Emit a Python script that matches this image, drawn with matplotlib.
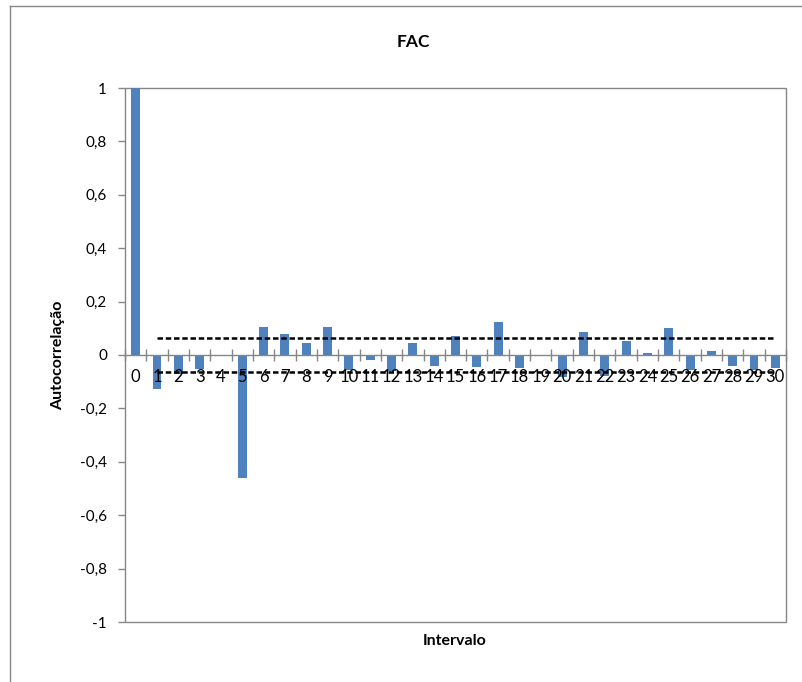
import matplotlib
matplotlib.use("Agg")
import matplotlib.pyplot as plt
from matplotlib.patches import Rectangle
from matplotlib.lines import Line2D
import numpy as np

lags = list(range(31))
fac = [1.0, -0.127, -0.071, -0.052, -0.005, -0.46, 0.104, 0.077, 0.044, 0.104,
       -0.055, -0.018, -0.06, 0.044, -0.04, 0.072, -0.044, 0.122, -0.05, -0.003,
       -0.082, 0.087, -0.078, 0.052, 0.007, 0.102, -0.055, 0.015, -0.04, -0.055,
       -0.05]
limit = 0.064
yticks = [-1, -0.8, -0.6, -0.4, -0.2, 0, 0.2, 0.4, 0.6, 0.8, 1]
ytick_labels = ["-1", "-0,8", "-0,6", "-0,4", "-0,2", "0", "0,2", "0,4", "0,6", "0,8", "1"]

bar_color = "#4F81BD"
gray = "#868686"

plt.rcParams["font.family"] = ["Lato", "DejaVu Sans"]

fig = plt.figure(figsize=(8.03, 6.82), dpi=100)
ax = fig.add_axes([125 / 803, 1 - 622 / 682, 661 / 803, 534 / 682])
ax.set_axisbelow(False)

x = np.array(lags)
ax.bar(x, fac, width=0.42, color=bar_color, zorder=1)

# confidence limits, from lag 1 to the last lag
ax.plot([x[1], x[-1]], [limit, limit], color="black", lw=1.8, dashes=[2.2, 1.1], zorder=4)
ax.plot([x[1], x[-1]], [-limit, -limit], color="black", lw=1.8, dashes=[2.2, 1.1], zorder=4)

ax.set_xlim(-0.5, len(lags) - 0.5)
ax.set_ylim(-1, 1)

# frame
for s in ["top", "right", "left"]:
    ax.spines[s].set_visible(False)
ax.spines["bottom"].set_position(("data", 0))
ax.spines["bottom"].set_color(gray)
ax.spines["bottom"].set_linewidth(1.0)
ax.add_patch(Rectangle((0, 0), 1, 1, transform=ax.transAxes, fill=False,
                       edgecolor=gray, lw=1.0, clip_on=False, zorder=0.5))

# x ticks: marks at category boundaries, labels at centers
ax.set_xticks(np.arange(-0.5, len(lags), 1.0))
ax.set_xticklabels([])
ax.tick_params(axis="x", which="major", direction="inout", length=8, width=1.0, color=gray)
ax.set_xticks(x, minor=True)
ax.set_xticklabels([str(v) for v in lags], minor=True)
ax.tick_params(axis="x", which="minor", length=0, pad=10, labelsize=12)

ax.set_yticks(yticks)
ax.set_yticklabels(ytick_labels)
ax.tick_params(axis="y", direction="out", length=5, width=1.0, color=gray, pad=8, labelsize=11)

fig.text(413 / 803, 1 - 42 / 682, "FAC", ha="center", va="center", fontsize=12.5, fontweight="bold")
fig.text(455 / 803, 1 - 641 / 682, "Intervalo", ha="center", va="center", fontsize=11.5, fontweight="bold")
fig.text(58 / 803, 1 - 355 / 682, "Autocorrelação", ha="center", va="center", rotation=90,
         fontsize=11.5, fontweight="bold")

# outer chart border (only left and top are inside the image)
fig.add_artist(Line2D([10 / 803, 10 / 803], [0, 1 - 6 / 682], color=gray, lw=1.0))
fig.add_artist(Line2D([10 / 803, 1], [1 - 6 / 682, 1 - 6 / 682], color=gray, lw=1.0))

fig.savefig("out.png", dpi=100)
